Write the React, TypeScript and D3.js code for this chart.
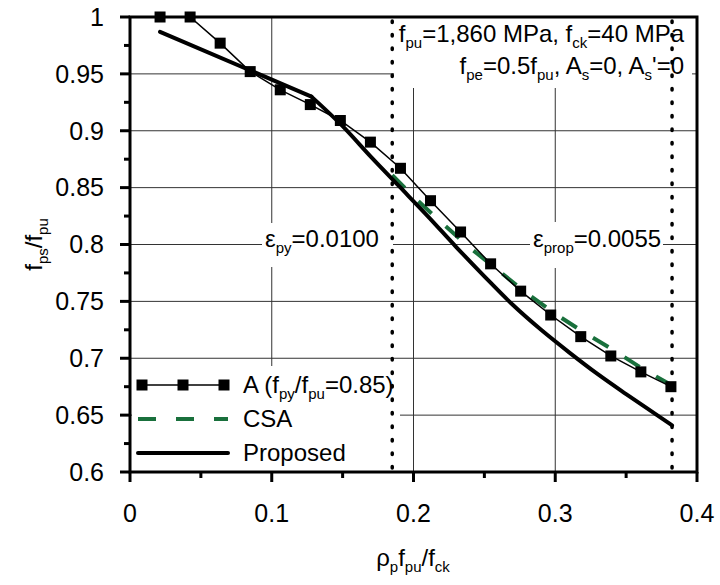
import React from "react";
import * as d3 from "d3";

const X_A = [0.0212, 0.0424, 0.0636, 0.0848, 0.106, 0.1272, 0.1484, 0.1696, 0.1908, 0.212, 0.2332, 0.2544, 0.2756, 0.2968, 0.318, 0.3392, 0.3604, 0.3816];
const Y_A = [1.0, 1.0, 0.977, 0.952, 0.936, 0.923, 0.909, 0.89, 0.867, 0.8385, 0.811, 0.783, 0.759, 0.738, 0.719, 0.702, 0.688, 0.675];

const X_P_LIN = [0.0212, 0.128];
const Y_P_LIN = [0.987, 0.93];
const X_P = [0.128, 0.15, 0.17, 0.19, 0.21, 0.23, 0.25, 0.27, 0.29, 0.31, 0.33, 0.35, 0.37, 0.3824];
const Y_P = [0.93, 0.904, 0.877, 0.851, 0.825, 0.798, 0.772, 0.747, 0.725, 0.705, 0.686, 0.6685, 0.6515, 0.641];

const X_C = [0.185, 0.2, 0.22, 0.24, 0.26, 0.28, 0.3, 0.32, 0.34, 0.36, 0.3824];
const Y_C = [0.861, 0.842, 0.819, 0.797, 0.777, 0.757, 0.739, 0.723, 0.708, 0.692, 0.676];

const X_DOT = [0.185, 0.3824];

const X_TICKS = [0, 0.1, 0.2, 0.3, 0.4];
const X_TICK_LABELS = ["0", "0.1", "0.2", "0.3", "0.4"];
const Y_TICKS = [0.6, 0.65, 0.7, 0.75, 0.8, 0.85, 0.9, 0.95, 1];
const Y_TICK_LABELS = ["0.6", "0.65", "0.7", "0.75", "0.8", "0.85", "0.9", "0.95", "1"];
const X_MINOR = [0.05, 0.15, 0.25, 0.35];
const Y_MINOR = [0.625, 0.675, 0.725, 0.775, 0.825, 0.875, 0.925, 0.975];
const X_GRID = [0.1, 0.2, 0.3];
const Y_GRID = [0.65, 0.7, 0.75, 0.8, 0.85, 0.9, 0.95];

const GREEN = "#19703c";
const FONT = "'Liberation Sans', Arial, sans-serif";

const L = 130, R = 697, T = 17, B = 472;

export default function App() {
  const x = d3.scaleLinear().domain([0, 0.4]).range([L, R]);
  const y = d3.scaleLinear().domain([0.6, 1]).range([B, T]);
  const line = d3.line<[number, number]>().x((d) => x(d[0])).y((d) => y(d[1]));
  const curve = d3.line<[number, number]>().x((d) => x(d[0])).y((d) => y(d[1])).curve(d3.curveMonotoneX);
  const aPts: [number, number][] = X_A.map((v, i) => [v, Y_A[i]]);
  const pLin: [number, number][] = X_P_LIN.map((v, i) => [v, Y_P_LIN[i]]);
  const pPts: [number, number][] = X_P.map((v, i) => [v, Y_P[i]]);
  const cPts: [number, number][] = X_C.map((v, i) => [v, Y_C[i]]);
  const sub = { fontSize: 15 } as const;
  const SQ = 11;

  return (
    <svg width={720} height={585} style={{ position: "absolute", left: 0, top: 0, background: "#fff" }} fontFamily={FONT}>
      <rect x={0} y={0} width={720} height={585} fill="#fff" />
      {/* grid */}
      {X_GRID.map((g) => (
        <line key={"gx" + g} x1={x(g)} x2={x(g)} y1={T} y2={B} stroke="#333" strokeWidth={1} />
      ))}
      {Y_GRID.map((g) => (
        <line key={"gy" + g} x1={L} x2={R} y1={y(g)} y2={y(g)} stroke="#333" strokeWidth={1} />
      ))}
      {/* white label boxes */}
      <rect x={394} y={T} width={298} height={71} fill="#fff" />
      <rect x={262} y={223} width={131} height={44} fill="#fff" />
      <rect x={530} y={222} width={133} height={46} fill="#fff" />
      <rect x={L + 2} y={366} width={268} height={B - 366} fill="#fff" />
      {/* dotted verticals */}
      {X_DOT.map((d) => (
        <line key={"d" + d} x1={x(d)} x2={x(d)} y1={T + 4} y2={B} stroke="#000" strokeWidth={3.5} strokeDasharray="1.5 12" strokeLinecap="round" />
      ))}
      {/* CSA */}
      <path d={line(cPts) || ""} fill="none" stroke={GREEN} strokeWidth={4} strokeDasharray="18 19" />
      {/* Proposed */}
      <path d={line(pLin) || ""} fill="none" stroke="#000" strokeWidth={4} strokeLinecap="round" />
      <path d={curve(pPts) || ""} fill="none" stroke="#000" strokeWidth={4} strokeLinejoin="round" strokeLinecap="round" />
      {/* A */}
      <path d={line(aPts) || ""} fill="none" stroke="#000" strokeWidth={1.5} />
      {aPts.map((p, i) => (
        <rect key={"a" + i} x={x(p[0]) - SQ / 2} y={y(p[1]) - SQ / 2} width={SQ} height={SQ} fill="#000" />
      ))}
      {/* ticks */}
      {Y_TICKS.map((t) => (
        <line key={"yt" + t} x1={L - 10} x2={L} y1={y(t)} y2={y(t)} stroke="#000" strokeWidth={3} />
      ))}
      {Y_MINOR.map((t) => (
        <line key={"ym" + t} x1={L - 6} x2={L} y1={y(t)} y2={y(t)} stroke="#000" strokeWidth={3} />
      ))}
      {X_TICKS.map((t) => (
        <line key={"xt" + t} x1={x(t)} x2={x(t)} y1={B} y2={B + 10} stroke="#000" strokeWidth={3} />
      ))}
      {X_MINOR.map((t) => (
        <line key={"xm" + t} x1={x(t)} x2={x(t)} y1={B} y2={B + 6} stroke="#000" strokeWidth={3} />
      ))}
      {/* frame */}
      <rect x={L} y={T} width={R - L} height={B - T} fill="none" stroke="#000" strokeWidth={3} />
      {/* tick labels */}
      {Y_TICKS.map((t, i) => (
        <text key={"yl" + t} x={104} y={y(t)} dy="0.35em" textAnchor="end" fontSize={25}>
          {Y_TICK_LABELS[i]}
        </text>
      ))}
      {X_TICKS.map((t, i) => (
        <text key={"xl" + t} x={x(t)} y={522} textAnchor="middle" fontSize={25}>
          {X_TICK_LABELS[i]}
        </text>
      ))}
      {/* axis titles */}
      <text x={413} y={566} textAnchor="middle" fontSize={24}>
        ρ<tspan {...sub} dy={6}>p</tspan>
        <tspan dy={-6}>f</tspan>
        <tspan {...sub} dy={6}>pu</tspan>
        <tspan dy={-6}>/f</tspan>
        <tspan {...sub} dy={6}>ck</tspan>
      </text>
      <text transform={`translate(42,${(T + B) / 2}) rotate(-90)`} textAnchor="middle" fontSize={24}>
        f<tspan {...sub} dy={6}>ps</tspan>
        <tspan dy={-6}>/f</tspan>
        <tspan {...sub} dy={6}>pu</tspan>
      </text>
      {/* annotations */}
      <text x={684} y={42} textAnchor="end" fontSize={24}>
        f<tspan {...sub} dy={6}>pu</tspan>
        <tspan dy={-6}>=1,860 MPa, f</tspan>
        <tspan {...sub} dy={6}>ck</tspan>
        <tspan dy={-6}>=40 MPa</tspan>
      </text>
      <text x={684} y={74} textAnchor="end" fontSize={24}>
        f<tspan {...sub} dy={6}>pe</tspan>
        <tspan dy={-6}>=0.5f</tspan>
        <tspan {...sub} dy={6}>pu</tspan>
        <tspan dy={-6}>, A</tspan>
        <tspan {...sub} dy={6}>s</tspan>
        <tspan dy={-6}>=0, A</tspan>
        <tspan {...sub} dy={6}>s</tspan>
        <tspan dy={-6}>'=0</tspan>
      </text>
      <text x={265} y={247} fontSize={24}>
        ε<tspan {...sub} dy={6}>py</tspan>
        <tspan dy={-6}>=0.0100</tspan>
      </text>
      <text x={533} y={247} fontSize={24}>
        ε<tspan {...sub} dy={6}>prop</tspan>
        <tspan dy={-6}>=0.0055</tspan>
      </text>
      {/* legend */}
      <line x1={138} x2={228} y1={385} y2={385} stroke="#000" strokeWidth={1.5} />
      {[142, 183, 224].map((lx) => (
        <rect key={"lg" + lx} x={lx - SQ / 2} y={385 - SQ / 2} width={SQ} height={SQ} fill="#000" />
      ))}
      <text x={243} y={385} dy="0.35em" fontSize={24}>
        A (f<tspan {...sub} dy={6}>py</tspan>
        <tspan dy={-6}>/f</tspan>
        <tspan {...sub} dy={6}>pu</tspan>
        <tspan dy={-6}>=0.85)</tspan>
      </text>
      <line x1={138} x2={228} y1={419} y2={419} stroke={GREEN} strokeWidth={4} strokeDasharray="18 20" />
      <text x={243} y={419} dy="0.35em" fontSize={24}>CSA</text>
      <line x1={138} x2={228} y1={453} y2={453} stroke="#000" strokeWidth={4} strokeLinecap="round" />
      <text x={243} y={453} dy="0.35em" fontSize={24}>Proposed</text>
    </svg>
  );
}
